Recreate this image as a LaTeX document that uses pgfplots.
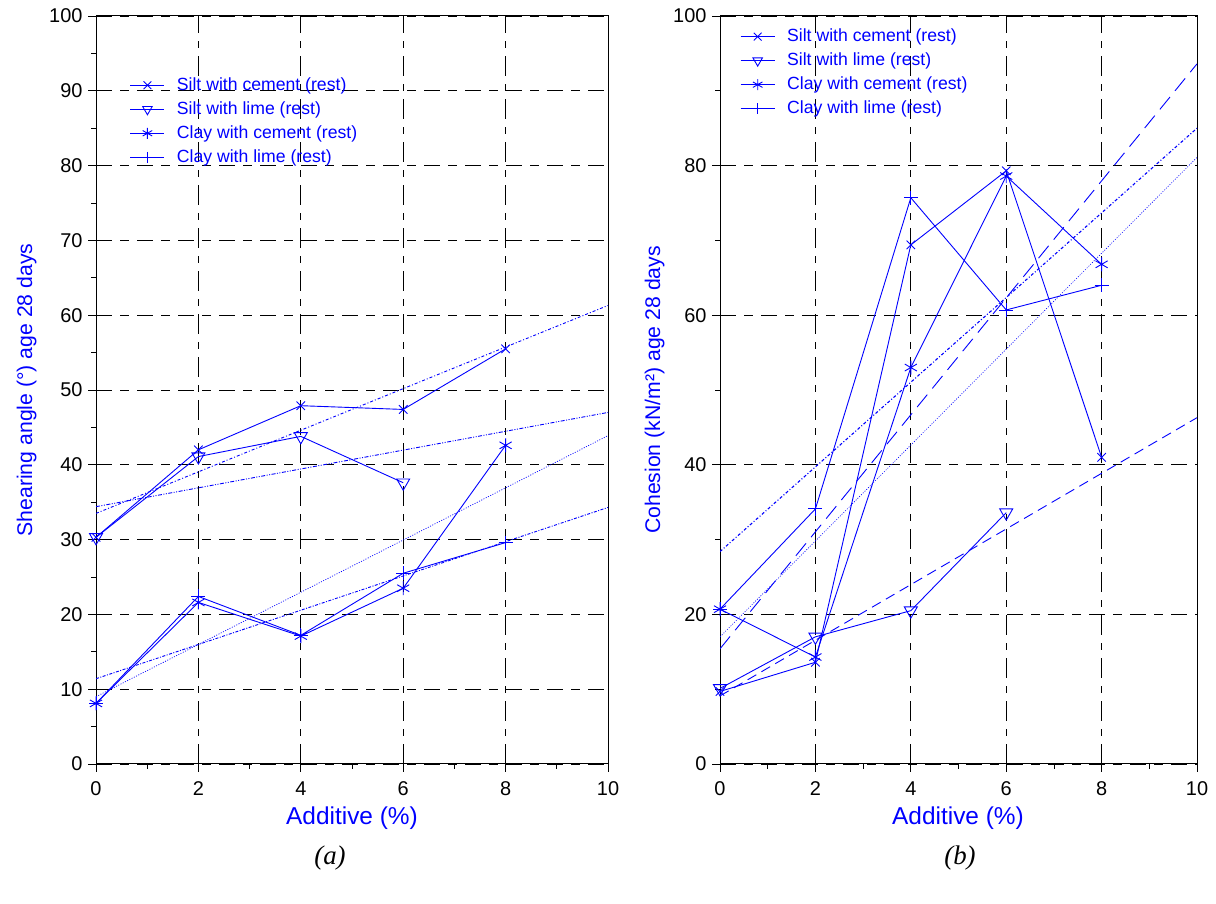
\documentclass[border=0pt]{standalone}
\usepackage{pgfplots}
\pgfplotsset{compat=1.18}
\usepackage{fontspec}
\setmainfont{Liberation Sans}
\newfontfamily\tnr{Liberation Serif}
\definecolor{pblue}{RGB}{0,0,255}
\begin{document}
\begin{tikzpicture}[x=1bp,y=1bp]
\useasboundingbox (0,0) rectangle (1216,904);
\pgfplotsset{
  myax/.style={
    scale only axis, height=748bp,
    xmin=0,xmax=10, ymin=0,ymax=100,
    xtick={0,2,...,10}, minor x tick num=1,
    xtick pos=bottom, ytick pos=left,
    tick align=outside, major tick length=8bp, minor tick length=5bp,
    tick style={black, line width=0.8bp},
    axis line style={black, line width=1bp},
    ticklabel style={font=\fontsize{20}{22}\selectfont},
    xticklabel style={yshift=-6bp},
    yticklabel style={xshift=-2bp},
    /pgf/number format/assume math mode=true,
    xmajorgrids, ymajorgrids,
    x grid style={black, line width=0.9bp, dash pattern=on 20bp off 8bp on 7bp off 8bp},
    y grid style={black, line width=0.9bp, dash pattern=on 16bp off 8bp on 9bp off 8bp},
    legend style={draw=none, fill=none, inner sep=0pt, text=pblue,
      font=\fontsize{17.7}{20}\selectfont,
      nodes={text height=14bp, text depth=4bp, inner sep=1bp},
      row sep=4bp,
      /tikz/every odd column/.append style={column sep=11bp}},
    legend cell align=left,
    legend image code/.code={\draw[mark repeat=2,mark phase=2,##1,mark size=5.5bp] plot coordinates {(0bp,0bp) (17bp,0bp) (34bp,0bp)};},
  },
  ser/.style={pblue, line width=0.9bp, mark options={solid}},
  tr/.style={pblue, line width=0.9bp, forget plot},
}
% ---------- (a) ----------
\begin{axis}[myax, at={(96bp,140bp)}, anchor=south west, width=512bp,
  ytick={0,10,...,100}, minor y tick num=1,
  legend style={at={(0.066,0.921)}, anchor=north west}]
\addplot[ser, mark=x, mark size=6bp] coordinates {(0,30.3) (2,42) (4,47.9) (6,47.4) (8,55.5)};
\addlegendentry{Silt with cement (rest)}
\addplot[ser, mark=triangle, mark options={rotate=180,solid}, mark size=7.5bp] coordinates {(0,30.3) (2,41.1) (4,43.8) (6,37.6)};
\addlegendentry{Silt with lime (rest)}
\addplot[ser, mark=asterisk, mark size=7bp] coordinates {(0,8.1) (2,21.6) (4,17.1) (6,23.5) (8,42.6)};
\addlegendentry{Clay with cement (rest)}
\addplot[ser, mark=+, mark size=7bp] coordinates {(0,8.1) (2,22.4) (4,17.2) (6,25.5) (8,29.6)};
\addlegendentry{Clay with lime (rest)}
\addplot[tr, dash pattern=on 3bp off 2bp on 1bp off 2bp] coordinates {(0,33.5) (10,61.3)};
\addplot[tr, dash pattern=on 4bp off 1.5bp on 1bp off 1.5bp on 1bp off 1.5bp] coordinates {(0,34.4) (10,47)};
\addplot[tr, line width=0.7bp, dash pattern=on 1bp off 1.5bp] coordinates {(0,9.0) (10,43.9)};
\addplot[tr, dash pattern=on 3bp off 1.5bp on 1bp off 1.5bp] coordinates {(0,11.4) (10,34.3)};
\end{axis}
% ---------- (b) ----------
\begin{axis}[myax, at={(720bp,140bp)}, anchor=south west, width=477bp,
  ytick={0,20,...,100}, minor y tick num=1,
  legend style={at={(0.042,0.986)}, anchor=north west}]
\addplot[ser, mark=x, mark size=6bp] coordinates {(0,9.7) (2,13.6) (4,69.4) (6,79.3) (8,41)};
\addlegendentry{Silt with cement (rest)}
\addplot[ser, mark=triangle, mark options={rotate=180,solid}, mark size=7.5bp] coordinates {(0,10.1) (2,17) (4,20.5) (6,33.6)};
\addlegendentry{Silt with lime (rest)}
\addplot[ser, mark=asterisk, mark size=7bp] coordinates {(0,20.7) (2,14.3) (4,53) (6,78.6) (8,66.8)};
\addlegendentry{Clay with cement (rest)}
\addplot[ser, mark=+, mark size=7bp] coordinates {(0,20.7) (2,34.1) (4,75.7) (6,60.7) (8,64)};
\addlegendentry{Clay with lime (rest)}
\addplot[tr, line width=0.6bp, dash pattern=on 1bp off 1.5bp] coordinates {(0,17) (10,81.1)};
\addplot[tr, dash pattern=on 10bp off 6bp] coordinates {(0,9.1) (10,46.3)};
\addplot[tr, dash pattern=on 16bp off 8bp] coordinates {(0,15.4) (10,93.6)};
\addplot[tr, line width=1.1bp, dash pattern=on 3bp off 2bp on 1bp off 2bp] coordinates {(0,28.4) (10,85)};
\end{axis}
% ---------- labels ----------
\node[pblue, anchor=base, font=\fontsize{24.5}{28}\selectfont] at (352,79) {Additive (\%)};
\node[pblue, anchor=base, font=\fontsize{24.5}{28}\selectfont] at (958,79) {Additive (\%)};
\node[pblue, anchor=base, rotate=90, font=\fontsize{21.3}{24}\selectfont] at (32,514) {Shearing angle (°) age 28 days};
\node[pblue, anchor=base, rotate=90, font=\fontsize{21.3}{24}\selectfont] at (660,514) {Cohesion (kN/m²) age 28 days};
\node[font=\tnr\itshape\fontsize{27}{30}\selectfont] at (330,46) {(a)};
\node[font=\tnr\itshape\fontsize{27}{30}\selectfont] at (960,46) {(b)};
\end{tikzpicture}
\end{document}
